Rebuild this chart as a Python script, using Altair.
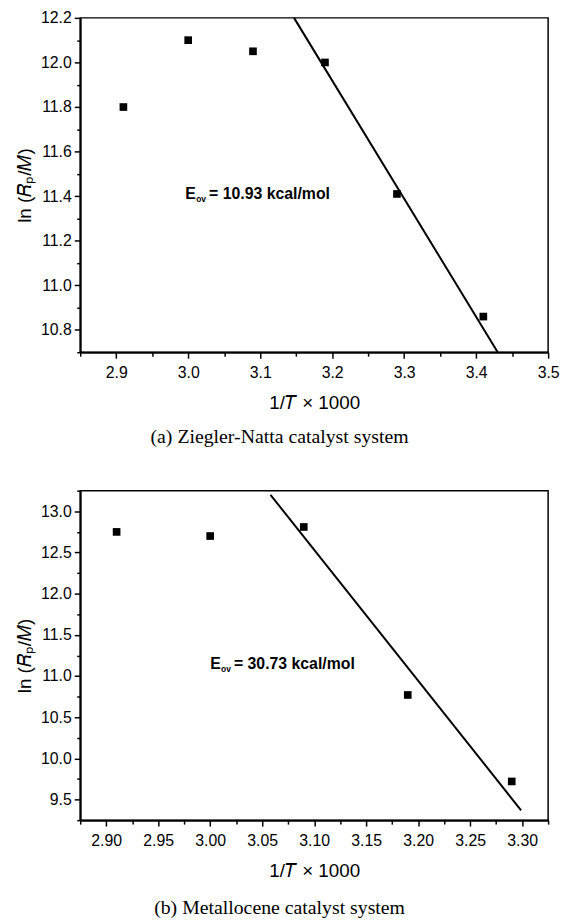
import altair as alt
import pandas as pd

# ---------------- data: (a) Ziegler-Natta catalyst system ----------------
a_x = [2.91, 3.00, 3.09, 3.19, 3.29, 3.41]
a_y = [11.80, 12.10, 12.05, 12.00, 11.41, 10.86]
a_fit_x = [3.147, 3.430]
a_fit_y = [12.20, 10.70]
a_note = "= 10.93 kcal/mol"
a_caption = "(a)  Ziegler-Natta catalyst system"
a_x_ticks = [2.85, 2.9, 2.95, 3.0, 3.05, 3.1, 3.15, 3.2, 3.25, 3.3, 3.35, 3.4, 3.45, 3.5]
a_y_ticks = [10.7, 10.8, 10.9, 11.0, 11.1, 11.2, 11.3, 11.4, 11.5, 11.6, 11.7, 11.8, 11.9, 12.0, 12.1, 12.2]

# ---------------- data: (b) Metallocene catalyst system ----------------
b_x = [2.91, 3.00, 3.09, 3.19, 3.29]
b_y = [12.75, 12.70, 12.81, 10.77, 9.72]
b_fit_x = [3.058, 3.299]
b_fit_y = [13.20, 9.37]
b_note = "= 30.73 kcal/mol"
b_caption = "(b) Metallocene catalyst system"
b_x_ticks = [2.875, 2.9, 2.925, 2.95, 2.975, 3.0, 3.025, 3.05, 3.075, 3.1, 3.125,
             3.15, 3.175, 3.2, 3.225, 3.25, 3.275, 3.3, 3.325]
b_y_ticks = [9.25, 9.5, 9.75, 10.0, 10.25, 10.5, 10.75, 11.0, 11.25, 11.5, 11.75,
             12.0, 12.25, 12.5, 12.75, 13.0, 13.25]

X_TITLE = "1/\U0001D447 \u00D7 1000"
Y_TITLE = "ln (\U0001D445\u209A/\U0001D440)"

SANS = "Liberation Sans"
SERIF = "Liberation Serif"


def major_test(mult):
    return f"abs(datum.value*{mult} - round(datum.value*{mult})) < 0.001"


def panel(px, py, fx, fy, note_text, note_pos, caption, xdom, ydom, xt, yt,
          xfmt, yfmt, xmult, ymult, h, cap_dx, cap_offset):
    pts = pd.DataFrame({"x": px, "y": py})
    fit = pd.DataFrame({"x": fx, "y": fy})
    note = pd.DataFrame({"x": [note_pos[0]], "y": [note_pos[1]]})

    X = alt.X("x:Q", scale=alt.Scale(domain=xdom, nice=False, zero=False),
              axis=alt.Axis(values=xt, format=xfmt, title=X_TITLE,
                            labelExpr=f"{major_test(xmult)} ? datum.label : ''",
                            tickSize={"condition": {"test": major_test(xmult), "value": 6}, "value": 4},
                            labelOverlap=False, labelFlush=False, labelPadding=7,
                            titlePadding=13))
    Y = alt.Y("y:Q", scale=alt.Scale(domain=ydom, nice=False, zero=False),
              axis=alt.Axis(values=yt, format=yfmt, title=Y_TITLE,
                            labelExpr=f"{major_test(ymult)} ? datum.label : ''",
                            tickSize={"condition": {"test": major_test(ymult), "value": 6}, "value": 3.5},
                            labelOverlap=False, labelFlush=False, labelPadding=3,
                            titlePadding=6))

    points = alt.Chart(pts).mark_square(size=60, color="black", opacity=1).encode(x=X, y=Y)
    line = alt.Chart(fit).mark_line(color="black", strokeWidth=2).encode(x=X, y=Y)
    t_e = alt.Chart(note).mark_text(text="E", align="left", baseline="middle", font=SANS,
                                    fontWeight="bold", fontSize=16, color="black").encode(x=X, y=Y)
    t_sub = alt.Chart(note).mark_text(text="ov", align="left", baseline="middle", font=SANS,
                                      fontWeight="bold", fontSize=8.5, dx=11, dy=5,
                                      color="black").encode(x=X, y=Y)
    t_rest = alt.Chart(note).mark_text(text=note_text, align="left", baseline="middle", font=SANS,
                                       fontWeight="bold", fontSize=16, dx=24,
                                       color="black").encode(x=X, y=Y)
    return alt.layer(points, line, t_e, t_sub, t_rest).properties(
        width=473, height=h,
        title=alt.TitleParams(text=caption, orient="bottom", font=SERIF, fontSize=20,
                              fontWeight="normal", color="black", anchor="middle",
                              offset=cap_offset, dx=cap_dx),
    )


top = panel(a_x, a_y, a_fit_x, a_fit_y, a_note, (2.996, 11.41), a_caption,
            [2.85, 3.5], [10.7, 12.2], a_x_ticks, a_y_ticks, ".1f", ".1f", 10, 5, 338, -35, 15)
bottom = panel(b_x, b_y, b_fit_x, b_fit_y, b_note, (3.0, 11.14), b_caption,
               [2.875, 3.325], [9.25, 13.25], b_x_ticks, b_y_ticks, ".2f", ".1f", 20, 2, 333, -35, 18)

chart = alt.vconcat(top, bottom, spacing=34).properties(
    padding={"left": 7, "top": -4, "right": 0, "bottom": 0}
).configure_view(
    stroke="black", strokeWidth=1.5
).configure_axis(
    labelFont=SANS, labelFontSize=16, labelColor="black",
    titleFont=SANS, titleFontSize=19, titleFontWeight="normal", titleColor="black",
    domainColor="black", domainWidth=2, tickColor="black", tickWidth=1.5, grid=False,
)

chart.save("out.html", embed_options={"renderer": "svg", "actions": False})
